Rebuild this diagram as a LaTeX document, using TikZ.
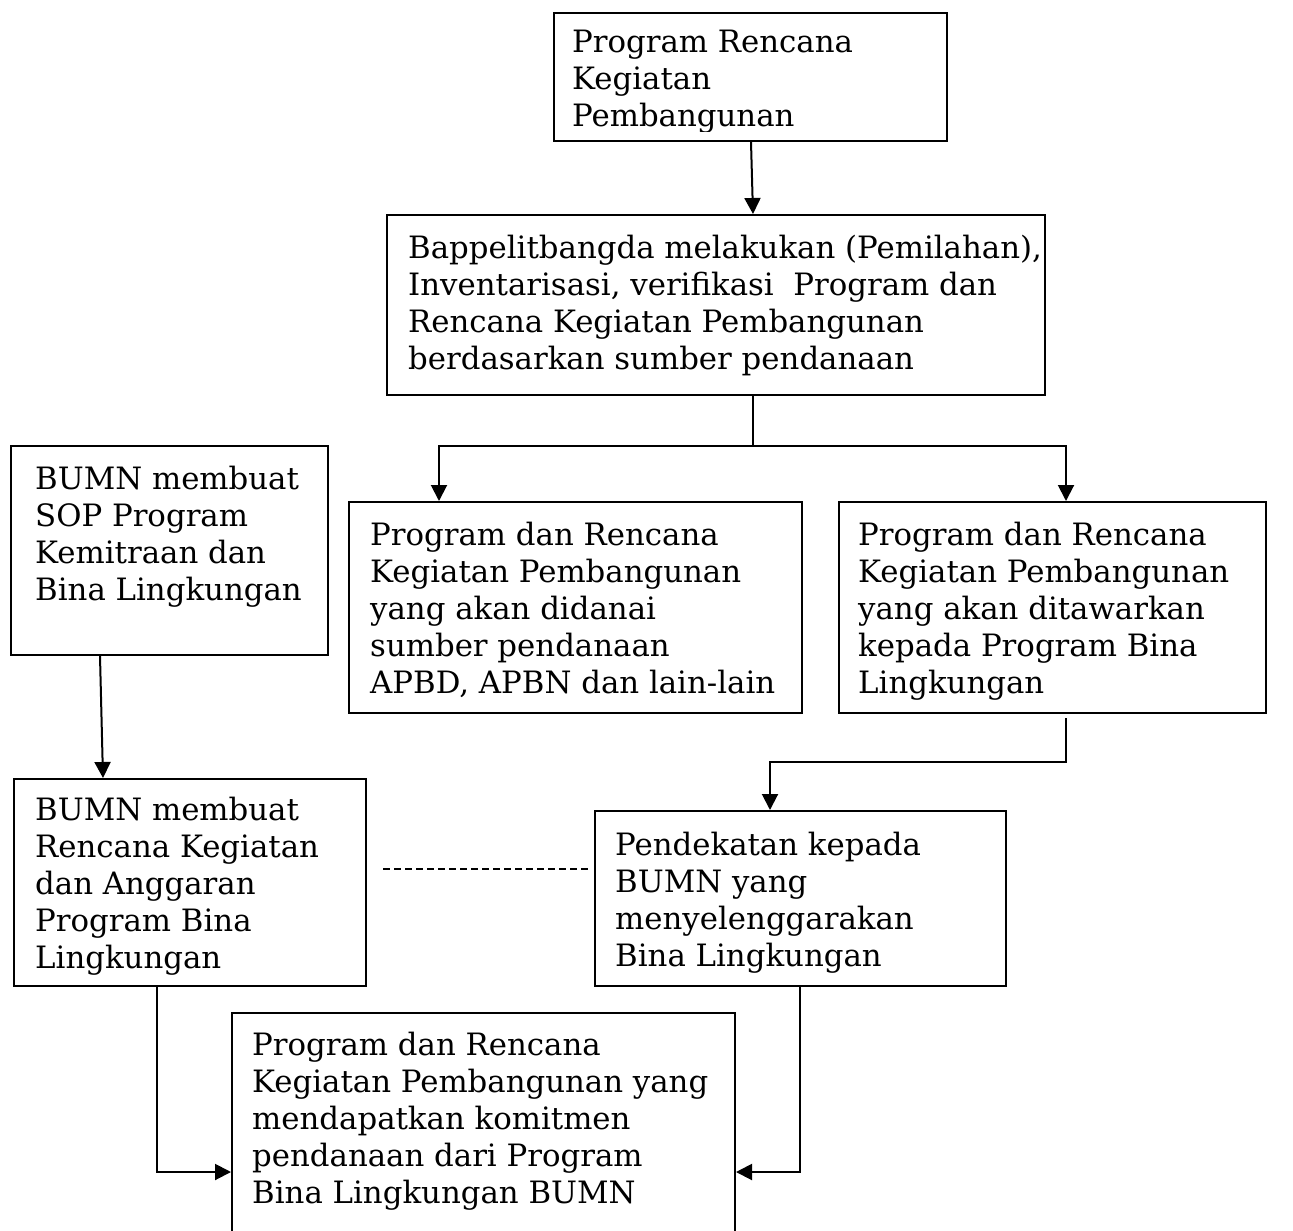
\documentclass[tikz,border=0pt]{standalone}
\usepackage{fontspec}
\setmainfont{DejaVu Serif}
\usetikzlibrary{arrows.meta,calc}
\newcommand{\fstrut}{\rule{0pt}{24pt}}
\begin{document}
\begin{tikzpicture}[x=1pt,y=-1pt,
 boxst/.style={draw,line width=2pt,inner sep=0pt,anchor=north west},
 txt/.style={anchor=north west,inner sep=0pt,align=left,font=\fontsize{30.8}{37}\selectfont},
 arr/.style={line width=2pt,-{Triangle[width=16pt,length=16pt]}},
 ln/.style={line width=2pt}]
\useasboundingbox (0,0) rectangle (1293,1231);
\clip (0,0) rectangle (1293,1231);
% boxes
\node[boxst,minimum width=393pt,minimum height=128pt] (b1) at (553,12) {};
\node[boxst,minimum width=658pt,minimum height=180pt] (b2) at (386,214) {};
\node[boxst,minimum width=453pt,minimum height=211pt] (b3) at (348,501) {};
\node[boxst,minimum width=427pt,minimum height=211pt] (b4) at (838,501) {};
\node[boxst,minimum width=317pt,minimum height=209pt] (s1) at (10,445) {};
\node[boxst,minimum width=352pt,minimum height=207pt] (s2) at (13,778) {};
\node[boxst,minimum width=411pt,minimum height=175pt] (pd) at (594,810) {};
\node[boxst,minimum width=503pt,minimum height=260pt] (fn) at (231,1012) {};
% texts
\begin{scope}
\clip (553,12) rectangle (946,131);
\node[txt] (t1) at (572,28) {\fstrut Program Rencana\\Kegiatan\\Pembangunan};
\end{scope}
\node[txt] (t2) at (408,234) {\fstrut Bappelitbangda melakukan (Pemilahan),\\Inventarisasi, verifikasi\ \ Program dan\\Rencana Kegiatan Pembangunan\\berdasarkan sumber pendanaan};
\node[txt] (t3) at (370,521) {\fstrut Program dan Rencana\\Kegiatan Pembangunan\\yang akan didanai\\sumber pendanaan\\APBD, APBN dan lain-lain};
\node[txt] (t4) at (858,521) {\fstrut Program dan Rencana\\Kegiatan Pembangunan\\yang akan ditawarkan\\kepada Program Bina\\Lingkungan};
\node[txt] (ts1) at (35,465) {\fstrut BUMN membuat\\SOP Program\\Kemitraan dan\\Bina Lingkungan};
\node[txt] (ts2) at (35,796) {\fstrut BUMN membuat\\Rencana Kegiatan\\dan Anggaran\\Program Bina\\Lingkungan};
\node[txt] (tpd) at (615,831) {\fstrut Pendekatan kepada\\BUMN yang\\menyelenggarakan\\Bina Lingkungan};
\node[txt] (tfn) at (252,1031) {\fstrut Program dan Rencana\\Kegiatan Pembangunan yang\\mendapatkan komitmen\\pendanaan dari Program\\Bina Lingkungan BUMN};
% connectors
\draw[arr] ($(b1.south west)+(198,0)$) -- ($(b2.north west)+(367,0)$);
\draw[ln] ($(b2.south west)+(367,0)$) -- ++(0,50) coordinate (jn);
\draw[arr] (jn) -| ($(b3.north west)+(91,0)$);
\draw[arr] (jn) -| ($(b4.north west)+(228,0)$);
\draw[arr] ($(s1.south west)+(90,0)$) -- ($(s2.north west)+(90,0)$);
\draw[arr] ($(b4.south west)+(228,4)$) -- ++(0,44) -| ($(pd.north west)+(176,0)$);
\draw[ln,line width=1.6pt,dash pattern=on 7pt off 4pt] ($(s2.north east)+(16,91)$) -- ($(pd.north west)+(-4,59)$);
\draw[arr] ($(s2.south west)+(144,0)$) |- ($(fn.north west)+(0,160)$);
\draw[arr] ($(pd.south west)+(206,0)$) |- ($(fn.north east)+(0,160)$);
\end{tikzpicture}
\end{document}
